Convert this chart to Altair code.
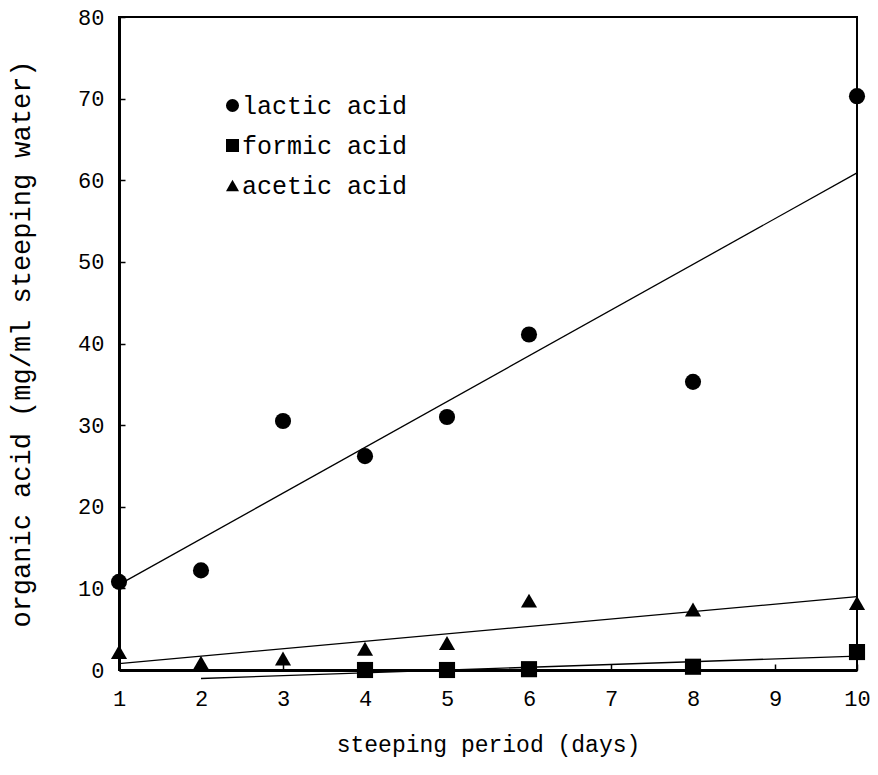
import altair as alt
import pandas as pd

# ---- data ----
days = [1, 2, 3, 4, 5, 6, 8, 10]
lactic = [10.8, 12.2, 30.5, 26.2, 31.0, 41.1, 35.3, 70.3]
formic_days = [4, 5, 6, 8, 10]
formic = [0.0, 0.0, 0.1, 0.4, 2.2]
acetic = [2.2, 0.9, 1.4, 2.6, 3.3, 8.5, 7.4, 8.2]
series_names = ["lactic acid", "formic acid", "acetic acid"]
series_shapes = ["circle", "square", "triangle-up"]
fit_extent = {"lactic acid": [1, 10], "formic acid": [2, 10], "acetic acid": [1, 10]}
x_ticks = list(range(1, 11))
y_ticks = list(range(0, 81, 10))

rows = []
for d, v in zip(days, lactic):
    rows.append({"day": d, "acid": v, "series": "lactic acid"})
for d, v in zip(formic_days, formic):
    rows.append({"day": d, "acid": v, "series": "formic acid"})
for d, v in zip(days, acetic):
    rows.append({"day": d, "acid": v, "series": "acetic acid"})
df = pd.DataFrame(rows)

FONT = "Liberation Mono"

x_enc = alt.X(
    "day:Q",
    scale=alt.Scale(domain=[1, 10], nice=False, zero=False),
    axis=alt.Axis(values=x_ticks, title="steeping period (days)", format="d",
                  labelPadding=24, titlePadding=24, labelFlush=False,
                  titleFontSize=23),
)
y_enc = alt.Y(
    "acid:Q",
    scale=alt.Scale(domain=[0, 80], nice=False),
    axis=alt.Axis(values=y_ticks, title="organic acid (mg/ml steeping water)",
                  labelPadding=21, titlePadding=42, labelFlush=False,
                  titleFontSize=27),
)

lines = []
for name in series_names:
    lines.append(
        alt.Chart(df)
        .transform_filter(alt.datum.series == name)
        .transform_regression("day", "acid", extent=fit_extent[name])
        .mark_line(color="black", strokeWidth=1.3, clip=False)
        .encode(x=x_enc, y=y_enc)
    )

points = (
    alt.Chart(df)
    .mark_point(filled=True, color="black", opacity=1, size=260, clip=False)
    .encode(
        x=x_enc,
        y=y_enc,
        shape=alt.Shape(
            "series:N",
            scale=alt.Scale(domain=series_names, range=series_shapes),
            legend=alt.Legend(
                title=None,
                orient="none",
                legendX=101,
                legendY=76,
                labelFont=FONT,
                labelFontSize=25,
                labelColor="black",
                labelOffset={"expr": "-3"},
                labelLimit=600,
                symbolSize=170,
                symbolFillColor="black",
                symbolStrokeColor="black",
                symbolOpacity=1,
                rowPadding=14,
            ),
        ),
    )
)

chart = (
    alt.layer(*lines, points)
    .properties(
        width=738,
        height=653,
        autosize="none",
        padding={"left": 111, "top": 9, "right": 13, "bottom": 105},
    )
    .configure_view(stroke="black", strokeWidth=2)
    .configure_axis(
        grid=False,
        domainColor="black",
        domainWidth=3,
        tickColor="black",
        tickWidth=1.5,
        tickSize={"expr": "-6"},
        labelFont=FONT,
        labelFontSize=22,
        labelColor="black",
        titleFont=FONT,
        titleFontWeight="normal",
        titleColor="black",
    )
)

chart.save("out.html", embed_options={"renderer": "svg", "actions": False})
